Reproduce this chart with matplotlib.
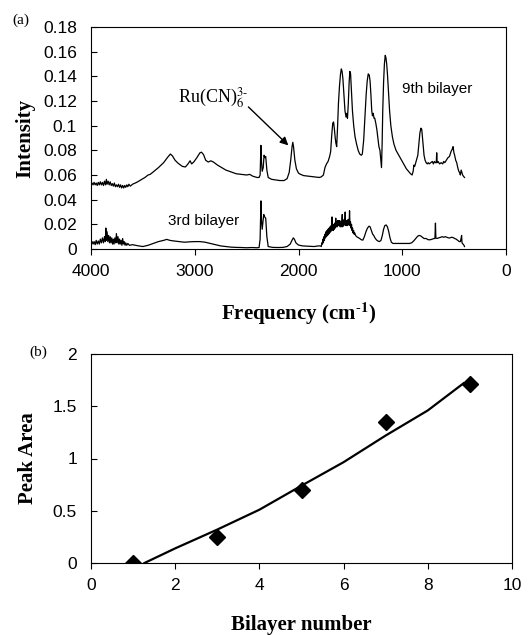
import matplotlib
matplotlib.use('Agg')
import matplotlib.pyplot as plt
from matplotlib.ticker import FuncFormatter

plt.rcParams['font.family'] = 'Liberation Sans'
plt.rcParams['mathtext.fontset'] = 'stix'

# ---- (a) IR spectra, 9th bilayer ----
freq_9 = [4000, 3990, 3980, 3970, 3960, 3950, 3940, 3930, 3920, 3910, 3900, 3890, 3880, 3870,
          3860, 3852, 3845, 3835, 3825, 3815, 3805, 3795, 3785, 3775, 3765, 3755, 3745, 3735,
          3725, 3715, 3705, 3695, 3685, 3675, 3665, 3655, 3645, 3635, 3620, 3600,
          3560, 3520, 3480, 3450, 3430, 3400, 3350, 3300, 3260, 3235, 3215, 3190, 3160, 3120,
          3090, 3065, 3045, 3030, 3010, 2980, 2950, 2935, 2915, 2895, 2870, 2845, 2820, 2780,
          2740, 2700, 2650, 2600, 2550, 2500, 2470, 2440, 2400, 2380,
          2370, 2362, 2356, 2350, 2340, 2332, 2324, 2316, 2305, 2292, 2260, 2220, 2180, 2140,
          2110, 2090, 2075, 2062, 2055, 2048, 2035, 2020, 2000, 1980, 1950, 1900, 1850, 1800, 1780,
          1760, 1745, 1730, 1715, 1700, 1690, 1680, 1670, 1662, 1655, 1646, 1640, 1632, 1624,
          1615, 1605, 1595, 1587, 1580, 1572, 1562, 1552, 1542, 1535, 1528, 1520, 1512, 1505,
          1498, 1490, 1480, 1468, 1455, 1440, 1425, 1410, 1395, 1385, 1372, 1360, 1348, 1338,
          1328, 1318, 1310, 1302, 1294, 1287, 1280, 1272, 1265,
          1255, 1245, 1235, 1225, 1215, 1207, 1200, 1194, 1188, 1180, 1172, 1164, 1157, 1150,
          1142, 1133, 1122, 1110, 1095, 1080, 1060, 1040, 1020, 1000, 980, 960, 940, 920, 905,
          895, 888, 880, 870, 860, 850, 840, 830, 820, 812, 805, 798, 790, 780, 770, 760, 750,
          740, 725, 710, 700, 690, 680, 672, 668, 664, 655, 640, 625, 610, 600, 590, 575, 560,
          545, 530, 518, 510, 502, 495, 485, 475, 465, 455, 447, 440, 432, 425, 418, 410, 400]
int_9 = [0.0525, 0.0535, 0.052, 0.054, 0.052, 0.0535, 0.0515, 0.054, 0.052, 0.0545, 0.052, 0.054, 0.0515, 0.055,
         0.052, 0.0565, 0.0525, 0.055, 0.052, 0.0545, 0.0515, 0.053, 0.051, 0.0535, 0.0505, 0.052, 0.0505, 0.0525,
         0.050, 0.052, 0.0495, 0.0515, 0.0495, 0.0515, 0.050, 0.052, 0.0505, 0.0525, 0.051, 0.0525,
         0.054, 0.056, 0.058, 0.060, 0.0605, 0.0625, 0.066, 0.070, 0.0745, 0.077, 0.0755, 0.072, 0.0695, 0.067,
         0.0665, 0.069, 0.0715, 0.069, 0.0705, 0.074, 0.078, 0.0785, 0.0765, 0.072, 0.0705, 0.0715, 0.0705, 0.068,
         0.066, 0.064, 0.0625, 0.061, 0.0605, 0.060, 0.0605, 0.059, 0.058, 0.058,
         0.060, 0.084, 0.070, 0.063, 0.066, 0.076, 0.074, 0.075, 0.064, 0.058, 0.0565, 0.056, 0.0555, 0.0555,
         0.057, 0.062, 0.072, 0.083, 0.0865, 0.083, 0.072, 0.065, 0.0615, 0.0605, 0.0595, 0.059, 0.0585, 0.058, 0.0585,
         0.060, 0.066, 0.069, 0.071, 0.075, 0.079, 0.092, 0.102, 0.103, 0.098, 0.090, 0.086, 0.083, 0.098,
         0.118, 0.132, 0.142, 0.146, 0.144, 0.138, 0.125, 0.112, 0.107, 0.110, 0.106, 0.118, 0.135, 0.144,
         0.142, 0.128, 0.112, 0.100, 0.091, 0.085, 0.080, 0.077, 0.076, 0.077, 0.088, 0.106, 0.125, 0.136,
         0.142, 0.141, 0.136, 0.125, 0.112, 0.108, 0.110, 0.106, 0.106,
         0.102, 0.097, 0.090, 0.083, 0.080, 0.072, 0.066, 0.085, 0.112, 0.135, 0.150, 0.157, 0.155, 0.150,
         0.141, 0.128, 0.112, 0.100, 0.091, 0.085, 0.080, 0.077, 0.074, 0.071, 0.068, 0.065, 0.063, 0.061, 0.060,
         0.063, 0.068, 0.067, 0.070, 0.073, 0.076, 0.085, 0.094, 0.098, 0.097, 0.090, 0.082, 0.076, 0.072, 0.070, 0.069, 0.070,
         0.069, 0.070, 0.071, 0.069, 0.071, 0.070, 0.070, 0.078, 0.070, 0.071, 0.069, 0.070, 0.069, 0.071, 0.070, 0.072, 0.074,
         0.075, 0.079, 0.081, 0.083, 0.078, 0.076, 0.072, 0.070, 0.066, 0.063, 0.062, 0.060, 0.064, 0.062, 0.060, 0.059, 0.058]

# ---- (a) IR spectra, 3rd bilayer ----
freq_3 = [4000, 3990, 3980, 3970, 3960, 3950, 3940, 3930, 3920, 3910, 3900, 3890, 3880, 3870,
          3862, 3857, 3852, 3845, 3838, 3830, 3822, 3815, 3808, 3800, 3792, 3785, 3778, 3770,
          3762, 3755, 3748, 3740, 3732, 3725, 3718, 3710, 3702, 3695, 3688, 3680, 3672, 3665,
          3655, 3645, 3630, 3600, 3570, 3540, 3500, 3450, 3400, 3350, 3300, 3270, 3240,
          3200, 3150, 3100, 3050, 3000, 2950, 2900, 2850, 2800, 2750, 2700, 2650, 2600, 2550,
          2500, 2450, 2400, 2380,
          2370, 2362, 2356, 2350, 2342, 2335, 2326, 2316, 2305, 2292, 2250, 2200, 2150, 2110,
          2080, 2060, 2050, 2040, 2025, 2000, 1960, 1900, 1850, 1810, 1790,
          1780, 1775, 1770, 1765, 1760, 1755, 1750, 1745, 1740, 1735, 1730, 1725, 1720, 1715,
          1710, 1705, 1700, 1695, 1690, 1685, 1680, 1677, 1674, 1670, 1665, 1660, 1655, 1650,
          1645, 1641, 1637, 1633, 1628, 1623, 1618, 1613, 1608, 1603, 1598, 1593, 1588, 1583,
          1578, 1574, 1569, 1564, 1559, 1554, 1550, 1546, 1541, 1536, 1531, 1526, 1521, 1516,
          1511, 1508, 1504, 1499, 1494, 1489, 1484, 1479, 1474, 1469, 1464, 1458, 1450,
          1440, 1425, 1410, 1395, 1380, 1365, 1350, 1335, 1320, 1310,
          1298, 1285, 1275, 1265, 1250, 1235, 1220, 1205, 1192, 1180, 1168, 1155, 1143, 1130,
          1118, 1105, 1090, 1070, 1050, 1020, 990, 960, 930, 910, 890, 870, 850, 835, 820, 805,
          790, 770, 750, 730, 710, 695, 685, 680, 676, 665, 650, 630, 615, 600, 585, 570, 555,
          540, 525, 510, 495, 480, 465, 450, 440, 432, 428, 424, 415, 405, 400]
int_3 = [0.004, 0.006, 0.004, 0.006, 0.0035, 0.007, 0.004, 0.0065, 0.004, 0.008, 0.005, 0.009, 0.005, 0.010,
         0.006, 0.017, 0.007, 0.014, 0.006, 0.011, 0.005, 0.010, 0.005, 0.009, 0.004, 0.008, 0.004, 0.009,
         0.005, 0.0125, 0.005, 0.010, 0.004, 0.008, 0.004, 0.007, 0.003, 0.0085, 0.004, 0.006, 0.003, 0.005,
         0.003, 0.0045, 0.003, 0.0035, 0.003, 0.0025, 0.002, 0.003, 0.0045, 0.006, 0.007, 0.0078, 0.007,
         0.0065, 0.006, 0.0055, 0.0058, 0.006, 0.006, 0.0055, 0.0045, 0.0035, 0.0025, 0.002, 0.0015, 0.0013, 0.0012,
         0.001, 0.0012, 0.001, 0.0012,
         0.008, 0.039, 0.022, 0.016, 0.022, 0.028, 0.026, 0.025, 0.010, 0.002, 0.0013, 0.0012, 0.0013, 0.002,
         0.004, 0.0075, 0.009, 0.008, 0.005, 0.0032, 0.0025, 0.0022, 0.002, 0.0025, 0.0025,
         0.002, 0.005, 0.004, 0.008, 0.005, 0.010, 0.007, 0.012, 0.009, 0.014, 0.010, 0.015, 0.011, 0.016,
         0.012, 0.017, 0.013, 0.018, 0.014, 0.019, 0.015, 0.026, 0.016, 0.019, 0.015, 0.020, 0.016, 0.021,
         0.017, 0.025, 0.018, 0.022, 0.018, 0.023, 0.019, 0.023, 0.019, 0.023, 0.018, 0.022, 0.018, 0.022,
         0.028, 0.018, 0.023, 0.019, 0.024, 0.020, 0.030, 0.019, 0.023, 0.019, 0.023, 0.019, 0.024, 0.020,
         0.023, 0.031, 0.019, 0.022, 0.017, 0.020, 0.015, 0.017, 0.013, 0.015, 0.012, 0.013, 0.011,
         0.010, 0.0093, 0.0085, 0.0075, 0.0072, 0.010, 0.014, 0.017, 0.0185, 0.018,
         0.015, 0.012, 0.011, 0.0093, 0.0075, 0.0065, 0.006, 0.007, 0.011, 0.016, 0.019, 0.0195, 0.018, 0.014,
         0.009, 0.0055, 0.0045, 0.0045, 0.0045, 0.0045, 0.0045, 0.0045, 0.0045, 0.005, 0.0065, 0.0085, 0.0105, 0.011, 0.0105, 0.0095,
         0.0085, 0.0085, 0.0075, 0.0075, 0.008, 0.0085, 0.0085, 0.021, 0.009, 0.0085, 0.009, 0.0095, 0.010, 0.0095, 0.010, 0.0095, 0.009,
         0.009, 0.0095, 0.0093, 0.0085, 0.008, 0.007, 0.006, 0.006, 0.009, 0.011, 0.005, 0.004, 0.003, 0.002]

# ---- (b) peak area vs bilayer number ----
bilayer = [1, 3, 5, 7, 9]
peak_area = [0.0, 0.245, 0.70, 1.35, 1.715]
fit_x = [1.27, 2.0, 3.0, 4.0, 5.0, 6.0, 7.0, 8.0, 8.85]
fit_y = [0.0, 0.14, 0.32, 0.51, 0.74, 0.965, 1.22, 1.46, 1.72]

SERIF = 'Liberation Serif'
fmt = FuncFormatter(lambda v, p: '%g' % v)

fig = plt.figure(figsize=(5.32, 6.35), dpi=100)

# top panel
ax1 = fig.add_axes([91 / 532, 1 - 249 / 635, 415 / 532, 222 / 635])
ax1.plot(freq_9, int_9, color='black', lw=0.9)
ax1.plot(freq_3, int_3, color='black', lw=0.9)
ax1.set_xlim(4000, 0)
ax1.set_ylim(0, 0.18)
ax1.set_xticks([4000, 3000, 2000, 1000, 0])
ax1.set_yticks([0, 0.02, 0.04, 0.06, 0.08, 0.1, 0.12, 0.14, 0.16, 0.18])
ax1.yaxis.set_major_formatter(fmt)
ax1.set_ylabel('Intensity', family=SERIF, fontweight='bold', fontsize=15)
ax1.yaxis.set_label_coords(-0.159, 0.5)
ax1.yaxis.label.set_va('center')
ax1.set_xlabel(r'Frequency (cm$^{\mathbf{\text{-}1}}$)', family=SERIF, fontweight='bold', fontsize=15)
ax1.xaxis.set_label_coords(0.5, -0.29)
ax1.xaxis.label.set_va('center')

ax1.text(3255, 0.0227, '3rd bilayer', fontsize=11, va='center', ha='left')
ax1.text(1006, 0.130, '9th bilayer', fontsize=11, va='center', ha='left')
ax1.annotate('', xy=(2098, 0.084), xytext=(2483, 0.1152),
             arrowprops=dict(arrowstyle='-|>', color='black', lw=1.0, mutation_scale=12,
                             shrinkA=0, shrinkB=0))
ax1.text(3158, 0.119, r'Ru(CN)$_6^{3\text{-}}$', family=SERIF, fontsize=13, va='baseline', ha='left')

# bottom panel
ax2 = fig.add_axes([91 / 532, 1 - 563 / 635, 421 / 532, 209 / 635])
ax2.plot(fit_x, fit_y, color='black', lw=1.6)
ax2.plot(bilayer, peak_area, linestyle='none', marker='D', color='black', markersize=8)
ax2.set_xlim(0, 10)
ax2.set_ylim(0, 2)
ax2.set_xticks([0, 2, 4, 6, 8, 10])
ax2.set_yticks([0, 0.5, 1, 1.5, 2])
ax2.xaxis.set_major_formatter(fmt)
ax2.yaxis.set_major_formatter(fmt)
ax2.set_ylabel('Peak Area', family=SERIF, fontweight='bold', fontsize=15)
ax2.yaxis.set_label_coords(-0.150, 0.5)
ax2.yaxis.label.set_va('center')
ax2.set_xlabel('Bilayer number', family=SERIF, fontweight='bold', fontsize=15)
ax2.xaxis.set_label_coords(0.5, -0.297)
ax2.xaxis.label.set_va('center')

for ax in (ax1, ax2):
    for s in ax.spines.values():
        s.set_linewidth(0.8)
    ax.tick_params(axis='y', direction='in', length=4, width=0.8, pad=10, labelsize=12.5)
    ax.tick_params(axis='x', direction='out', length=4, width=0.8, pad=7, labelsize=12.5)

fig.text(21 / 532, 1 - 20 / 635, '(a)', family=SERIF, fontsize=11, ha='center', va='center')
fig.text(38 / 532, 1 - 352 / 635, '(b)', family=SERIF, fontsize=11, ha='center', va='center')

fig.savefig('out.png', dpi=100)
